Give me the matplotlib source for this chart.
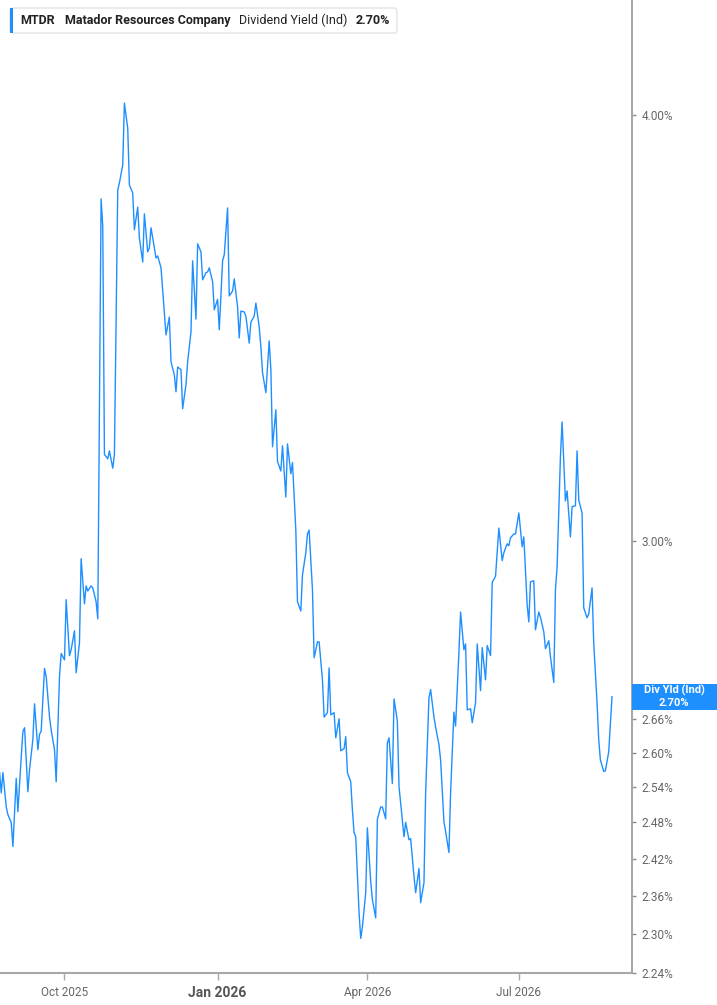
import matplotlib
matplotlib.use("Agg")
import matplotlib.pyplot as plt
import matplotlib.dates as mdates
from matplotlib.ticker import FixedLocator, FuncFormatter, NullLocator
from matplotlib.patches import FancyBboxPatch, Rectangle
from datetime import datetime
import pandas as pd

plt.rcParams['font.family'] = ['Roboto', 'DejaVu Sans']

# Dividend yield (Ind), %
dates = [
    "2025-08-23", "2025-08-24", "2025-08-25", "2025-08-27", "2025-08-28", "2025-08-30", "2025-08-31",
    "2025-09-02", "2025-09-03", "2025-09-05", "2025-09-06", "2025-09-07", "2025-09-09", "2025-09-10",
    "2025-09-12", "2025-09-13", "2025-09-15", "2025-09-16", "2025-09-17", "2025-09-19", "2025-09-20",
    "2025-09-22", "2025-09-23", "2025-09-25", "2025-09-26", "2025-09-28", "2025-09-29",
    "2025-10-01", "2025-10-02", "2025-10-04", "2025-10-05", "2025-10-07", "2025-10-08", "2025-10-10",
    "2025-10-11", "2025-10-13", "2025-10-14", "2025-10-15", "2025-10-17", "2025-10-18", "2025-10-20",
    "2025-10-21", "2025-10-23", "2025-10-24", "2025-10-25", "2025-10-26", "2025-10-27", "2025-10-28",
    "2025-10-30", "2025-10-31",
    "2025-11-02", "2025-11-03", "2025-11-05", "2025-11-06", "2025-11-08", "2025-11-09", "2025-11-11",
    "2025-11-12", "2025-11-14", "2025-11-15", "2025-11-17", "2025-11-18", "2025-11-20", "2025-11-21",
    "2025-11-22", "2025-11-24", "2025-11-25", "2025-11-26", "2025-11-28", "2025-11-29",
    "2025-12-01", "2025-12-03", "2025-12-04", "2025-12-06", "2025-12-07", "2025-12-08", "2025-12-10",
    "2025-12-11", "2025-12-13", "2025-12-14", "2025-12-16", "2025-12-17", "2025-12-19", "2025-12-20",
    "2025-12-22", "2025-12-23", "2025-12-25", "2025-12-26", "2025-12-27", "2025-12-29", "2025-12-30",
    "2026-01-01", "2026-01-02", "2026-01-04", "2026-01-05", "2026-01-07", "2026-01-08", "2026-01-10",
    "2026-01-11", "2026-01-13", "2026-01-14", "2026-01-15", "2026-01-17", "2026-01-18", "2026-01-20",
    "2026-01-21", "2026-01-23", "2026-01-24", "2026-01-26", "2026-01-27", "2026-01-28", "2026-01-30",
    "2026-02-01", "2026-02-02", "2026-02-03", "2026-02-05", "2026-02-06", "2026-02-08", "2026-02-09",
    "2026-02-11", "2026-02-12", "2026-02-14", "2026-02-15", "2026-02-17", "2026-02-18", "2026-02-20",
    "2026-02-21", "2026-02-23", "2026-02-24", "2026-02-25", "2026-02-27", "2026-02-28",
    "2026-03-02", "2026-03-03", "2026-03-05", "2026-03-06", "2026-03-08", "2026-03-09", "2026-03-10",
    "2026-03-12", "2026-03-13", "2026-03-15", "2026-03-16", "2026-03-18", "2026-03-19", "2026-03-20",
    "2026-03-22", "2026-03-23", "2026-03-24", "2026-03-25", "2026-03-27", "2026-03-28", "2026-03-29",
    "2026-03-31",
    "2026-04-01", "2026-04-03", "2026-04-04", "2026-04-06", "2026-04-07", "2026-04-09", "2026-04-10",
    "2026-04-12", "2026-04-13", "2026-04-14", "2026-04-16", "2026-04-17", "2026-04-19", "2026-04-20",
    "2026-04-22", "2026-04-23", "2026-04-24", "2026-04-26", "2026-04-27", "2026-04-29", "2026-04-30",
    "2026-05-02", "2026-05-03", "2026-05-05", "2026-05-06", "2026-05-08", "2026-05-09", "2026-05-11",
    "2026-05-12", "2026-05-14", "2026-05-15", "2026-05-17", "2026-05-18", "2026-05-20", "2026-05-21",
    "2026-05-23", "2026-05-24", "2026-05-26", "2026-05-27", "2026-05-29", "2026-05-30", "2026-05-31",
    "2026-06-02", "2026-06-03", "2026-06-05", "2026-06-06", "2026-06-08", "2026-06-09", "2026-06-11",
    "2026-06-12", "2026-06-14", "2026-06-15", "2026-06-17", "2026-06-18", "2026-06-19", "2026-06-21",
    "2026-06-22", "2026-06-24", "2026-06-25", "2026-06-26", "2026-06-28", "2026-06-29",
    "2026-07-01", "2026-07-03", "2026-07-04", "2026-07-06", "2026-07-07", "2026-07-08", "2026-07-10",
    "2026-07-11", "2026-07-13", "2026-07-14", "2026-07-16", "2026-07-17", "2026-07-19", "2026-07-20",
    "2026-07-22", "2026-07-23", "2026-07-24", "2026-07-26", "2026-07-27", "2026-07-29", "2026-07-30",
    "2026-08-01", "2026-08-02", "2026-08-04", "2026-08-05", "2026-08-06", "2026-08-08", "2026-08-09",
    "2026-08-11", "2026-08-12", "2026-08-14", "2026-08-15", "2026-08-17", "2026-08-18", "2026-08-19",
    "2026-08-21", "2026-08-22", "2026-08-24", "2026-08-26",
]
yields = [
    2.565, 2.530, 2.565, 2.506, 2.493, 2.480, 2.440,
    2.555, 2.498, 2.592, 2.637, 2.644, 2.532, 2.570,
    2.623, 2.687, 2.605, 2.632, 2.638, 2.752, 2.737,
    2.663, 2.640, 2.605, 2.549, 2.737, 2.780,
    2.768, 2.883, 2.776, 2.787, 2.823, 2.744, 2.800,
    2.964, 2.875, 2.910, 2.900, 2.910, 2.906, 2.879,
    2.846, 3.780, 3.710, 3.180, 3.176, 3.171, 3.188,
    3.151, 3.180,
    3.803, 3.821, 3.868, 4.033, 3.965, 3.816, 3.795,
    3.702, 3.759, 3.682, 3.622, 3.742, 3.647, 3.657,
    3.707, 3.657, 3.632, 3.637, 3.608, 3.554,
    3.448, 3.490, 3.386, 3.356, 3.318, 3.374, 3.368,
    3.280, 3.334, 3.386, 3.455, 3.625, 3.485, 3.667,
    3.647, 3.579, 3.596, 3.598, 3.608, 3.574, 3.507,
    3.532, 3.460, 3.625, 3.640, 3.757, 3.540, 3.552,
    3.581, 3.514, 3.441, 3.504, 3.502, 3.492, 3.429,
    3.478, 3.492, 3.523, 3.467, 3.420, 3.361, 3.316,
    3.434, 3.368, 3.197, 3.278, 3.165, 3.145, 3.199,
    3.090, 3.203, 3.139, 3.163, 3.022, 2.879, 2.861,
    2.932, 2.976, 3.014, 3.022, 2.902, 2.772,
    2.802, 2.802, 2.731, 2.663, 2.671, 2.753, 2.667,
    2.671, 2.626, 2.660, 2.603, 2.607, 2.628, 2.565,
    2.549, 2.501, 2.463, 2.456, 2.333, 2.293, 2.311,
    2.365,
    2.471, 2.383, 2.354, 2.325, 2.485, 2.506, 2.506,
    2.486, 2.617, 2.626, 2.546, 2.696, 2.656, 2.541,
    2.485, 2.456, 2.480, 2.451, 2.453, 2.391, 2.365,
    2.404, 2.349, 2.381, 2.530, 2.698, 2.713, 2.663,
    2.645, 2.614, 2.587, 2.481, 2.465, 2.430, 2.530,
    2.672, 2.647, 2.783, 2.859, 2.787, 2.798, 2.676,
    2.678, 2.653, 2.689, 2.798, 2.711, 2.791, 2.731,
    2.795, 2.776, 2.917, 2.929, 2.976, 3.026, 2.960,
    2.976, 2.994, 2.990, 3.006, 3.014, 3.014,
    3.057, 2.988, 3.008, 2.873, 2.840, 2.918, 2.920,
    2.825, 2.859, 2.849, 2.821, 2.789, 2.804, 2.774,
    2.726, 2.902, 2.948, 3.176, 3.251, 3.082, 3.103,
    3.008, 3.070, 3.072, 3.188, 3.084, 3.057, 2.867,
    2.848, 2.855, 2.906, 2.800, 2.689, 2.623, 2.587,
    2.567, 2.568, 2.601, 2.700,
]

y_ticks = [2.24, 2.30, 2.36, 2.42, 2.48, 2.54, 2.60, 2.66, 3.00, 4.00]
x_tick_dates = ["2025-10-01", "2026-01-01", "2026-04-01", "2026-07-01"]
x_tick_labels = ["Oct 2025", "Jan 2026", "Apr 2026", "Jul 2026"]
last_value = yields[-1]

BLUE = "#1e8fff"
GRAY = "#a8a8a8"

W, H = 717, 1005
fig = plt.figure(figsize=(W / 100, H / 100), dpi=100)
ax = fig.add_axes([0, 32 / H, 632 / W, 1 - 32 / H])

ax.plot(pd.to_datetime(dates), yields, color=BLUE, lw=1.0, solid_joinstyle="round")

ax.set_yscale("log")
ax.set_ylim(2.24, 4.324)
ax.set_xlim(datetime(2025, 8, 23, 6), datetime(2026, 9, 7))

ax.yaxis.tick_right()
ax.yaxis.set_major_locator(FixedLocator(y_ticks))
ax.yaxis.set_minor_locator(NullLocator())
ax.yaxis.set_major_formatter(FuncFormatter(lambda v, p: f"{v:.2f}%"))
ax.tick_params(axis="y", direction="out", length=3, width=1, color="#8a8a8a",
               labelcolor="#666666", labelsize=8.5, pad=4)

ax.xaxis.set_major_locator(FixedLocator(mdates.date2num(pd.to_datetime(x_tick_dates))))
ax.xaxis.set_minor_locator(NullLocator())
ax.set_xticklabels(x_tick_labels)
ax.tick_params(axis="x", direction="out", length=5, width=1, color=GRAY,
               labelcolor="#666666", labelsize=8.5, pad=4)
for lbl in ax.get_xticklabels():
    if lbl.get_text().startswith("Jan"):
        lbl.set_fontweight("bold")
        lbl.set_fontsize(10)
        lbl.set_color("#555555")

for side in ["left", "top"]:
    ax.spines[side].set_visible(False)
for side in ["bottom", "right"]:
    ax.spines[side].set_color(GRAY)
    ax.spines[side].set_linewidth(1.5)

# header box
fig.add_artist(FancyBboxPatch((10 / W, 1 - 33 / H), 387 / W, 25 / H,
                              boxstyle="round,pad=0,rounding_size=0.004",
                              fc="white", ec="#e3e3e3", lw=1))
fig.add_artist(Rectangle((10 / W, 1 - 33 / H), 3 / W, 25 / H, fc=BLUE, ec="none"))

renderer = fig.canvas.get_renderer()
yc = 1 - 20.5 / H
x = 20 / W
parts = [("MTDR", "bold", 10), ("Matador Resources Company", "bold", 9),
         ("Dividend Yield (Ind)", "normal", 8), (f"{last_value:.2f}%", "bold", 0)]
for text, weight, gap in parts:
    t = fig.text(x, yc, text, fontsize=9, fontweight=weight, color="#222222",
                 ha="left", va="center")
    bb = t.get_window_extent(renderer)
    x = (bb.x1 + gap) / W

# last value tag on the axis
fig.canvas.draw()
y_disp = ax.transData.transform((mdates.date2num(datetime(2026, 1, 1)), last_value))[1]
fig.add_artist(Rectangle((632 / W, (y_disp - 13) / H), 85 / W, 26 / H, fc=BLUE, ec="none"))
fig.text(674 / W, (y_disp + 6) / H, "Div Yld (Ind)", fontsize=8, fontweight="bold",
         color="white", ha="center", va="center")
fig.text(674 / W, (y_disp - 6) / H, f"{last_value:.2f}%", fontsize=8, fontweight="bold",
         color="white", ha="center", va="center")

fig.savefig("out.png", dpi=100)
